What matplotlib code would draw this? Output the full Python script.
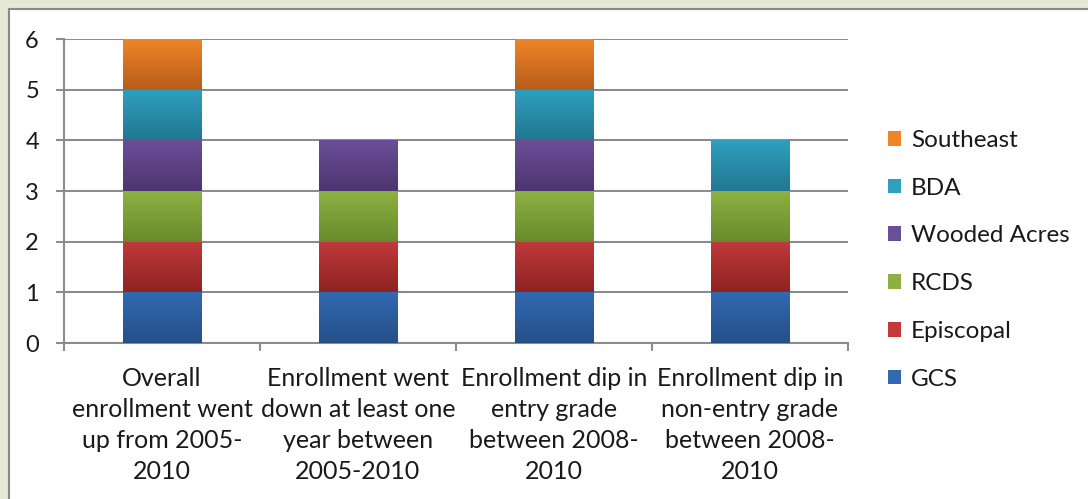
import numpy as np
import matplotlib
matplotlib.use("Agg")
import matplotlib.pyplot as plt
from matplotlib.patches import Patch, Rectangle
from matplotlib.colors import LinearSegmentedColormap

plt.rcParams['font.family'] = ['Lato', 'DejaVu Sans']

categories = ["Overall\nenrollment went\nup from 2005-\n2010",
              "Enrollment went\ndown at least one\nyear between\n2005-2010",
              "Enrollment dip in\nentry grade\nbetween 2008-\n2010",
              "Enrollment dip in\nnon-entry grade\nbetween 2008-\n2010"]
series = ["GCS", "Episcopal", "RCDS", "Wooded Acres", "BDA", "Southeast"]
gcs = [1, 1, 1, 1]
episcopal = [1, 1, 1, 1]
rcds = [1, 1, 1, 1]
wooded = [1, 1, 1, 0]
bda = [1, 0, 1, 1]
southeast = [1, 0, 1, 0]
values = [gcs, episcopal, rcds, wooded, bda, southeast]

# top (light) and bottom (dark) colour of each gradient
tops = ["#3169b2", "#c1393a", "#8db141", "#6a4e98", "#2f9fc0", "#f08527"]
bottoms = ["#254f89", "#8e2322", "#698a2c", "#4d356f", "#217890", "#b75c1b"]

fig = plt.figure(figsize=(10.88, 4.99), dpi=100)
fig.patch.set_facecolor("#e3e9d5")
fig.patches.append(Rectangle((9 / 1088, -0.1), 1.2, 1 - 9 / 499 + 0.1,
                             transform=fig.transFigure, facecolor="white",
                             edgecolor="#8a8a8a", linewidth=1.5, zorder=-10))

ax = fig.add_axes([64 / 1088, 1 - 343 / 499, 784 / 1088, 304 / 499])
ax.set_facecolor("none")

x = np.arange(len(categories))
bottom = np.zeros(len(categories))
for vals, c_top, c_bot in zip(values, tops, bottoms):
    bars = ax.bar(x, vals, 0.4, bottom=bottom, color=c_top, linewidth=0, zorder=3)
    cmap = LinearSegmentedColormap.from_list("g", [c_bot, c_top])
    grad = np.linspace(0, 1, 100).reshape(-1, 1)
    for b in bars:
        if b.get_height() == 0:
            continue
        x0, y0 = b.get_x(), b.get_y()
        im = ax.imshow(grad, extent=[x0, x0 + b.get_width(), y0, y0 + b.get_height()],
                       origin="lower", aspect="auto", cmap=cmap, zorder=4)
        im.set_clip_path(b)
    bottom += np.array(vals)

ax.set_xlim(-0.5, 3.5)
ax.set_ylim(0, 6)
ax.set_yticks(range(7))
ax.yaxis.grid(True, color="#8c8c8c", linewidth=1.5, zorder=1)
ax.set_axisbelow(True)

ax.set_xticks(x)
ax.set_xticklabels(categories, fontsize=18, linespacing=1.42, color="#1a1a1a")
ax.set_xticks(np.arange(-0.5, 4, 1), minor=True)
ax.tick_params(axis="x", which="major", length=0, pad=17.5)
ax.tick_params(axis="x", which="minor", length=6, width=1.5, color="#8c8c8c", direction="out")
ax.tick_params(axis="y", length=6, width=1.5, color="#8c8c8c", labelsize=17,
               labelcolor="#1a1a1a", pad=12)

for s in ["top", "right"]:
    ax.spines[s].set_visible(False)
for s in ["left", "bottom"]:
    ax.spines[s].set_color("#8c8c8c")
    ax.spines[s].set_linewidth(1.5)

handles = [Patch(facecolor=c, edgecolor="none") for c in tops]
leg = fig.legend(handles[::-1], series[::-1], loc="upper left",
                 bbox_to_anchor=(866 / 1088, 1 - 108 / 499), frameon=False,
                 fontsize=17.5, handlelength=0.55, handleheight=0.55,
                 handletextpad=0.4, labelspacing=1.1)
for t in leg.get_texts():
    t.set_color("#1a1a1a")

fig.savefig("out.png", dpi=100)
